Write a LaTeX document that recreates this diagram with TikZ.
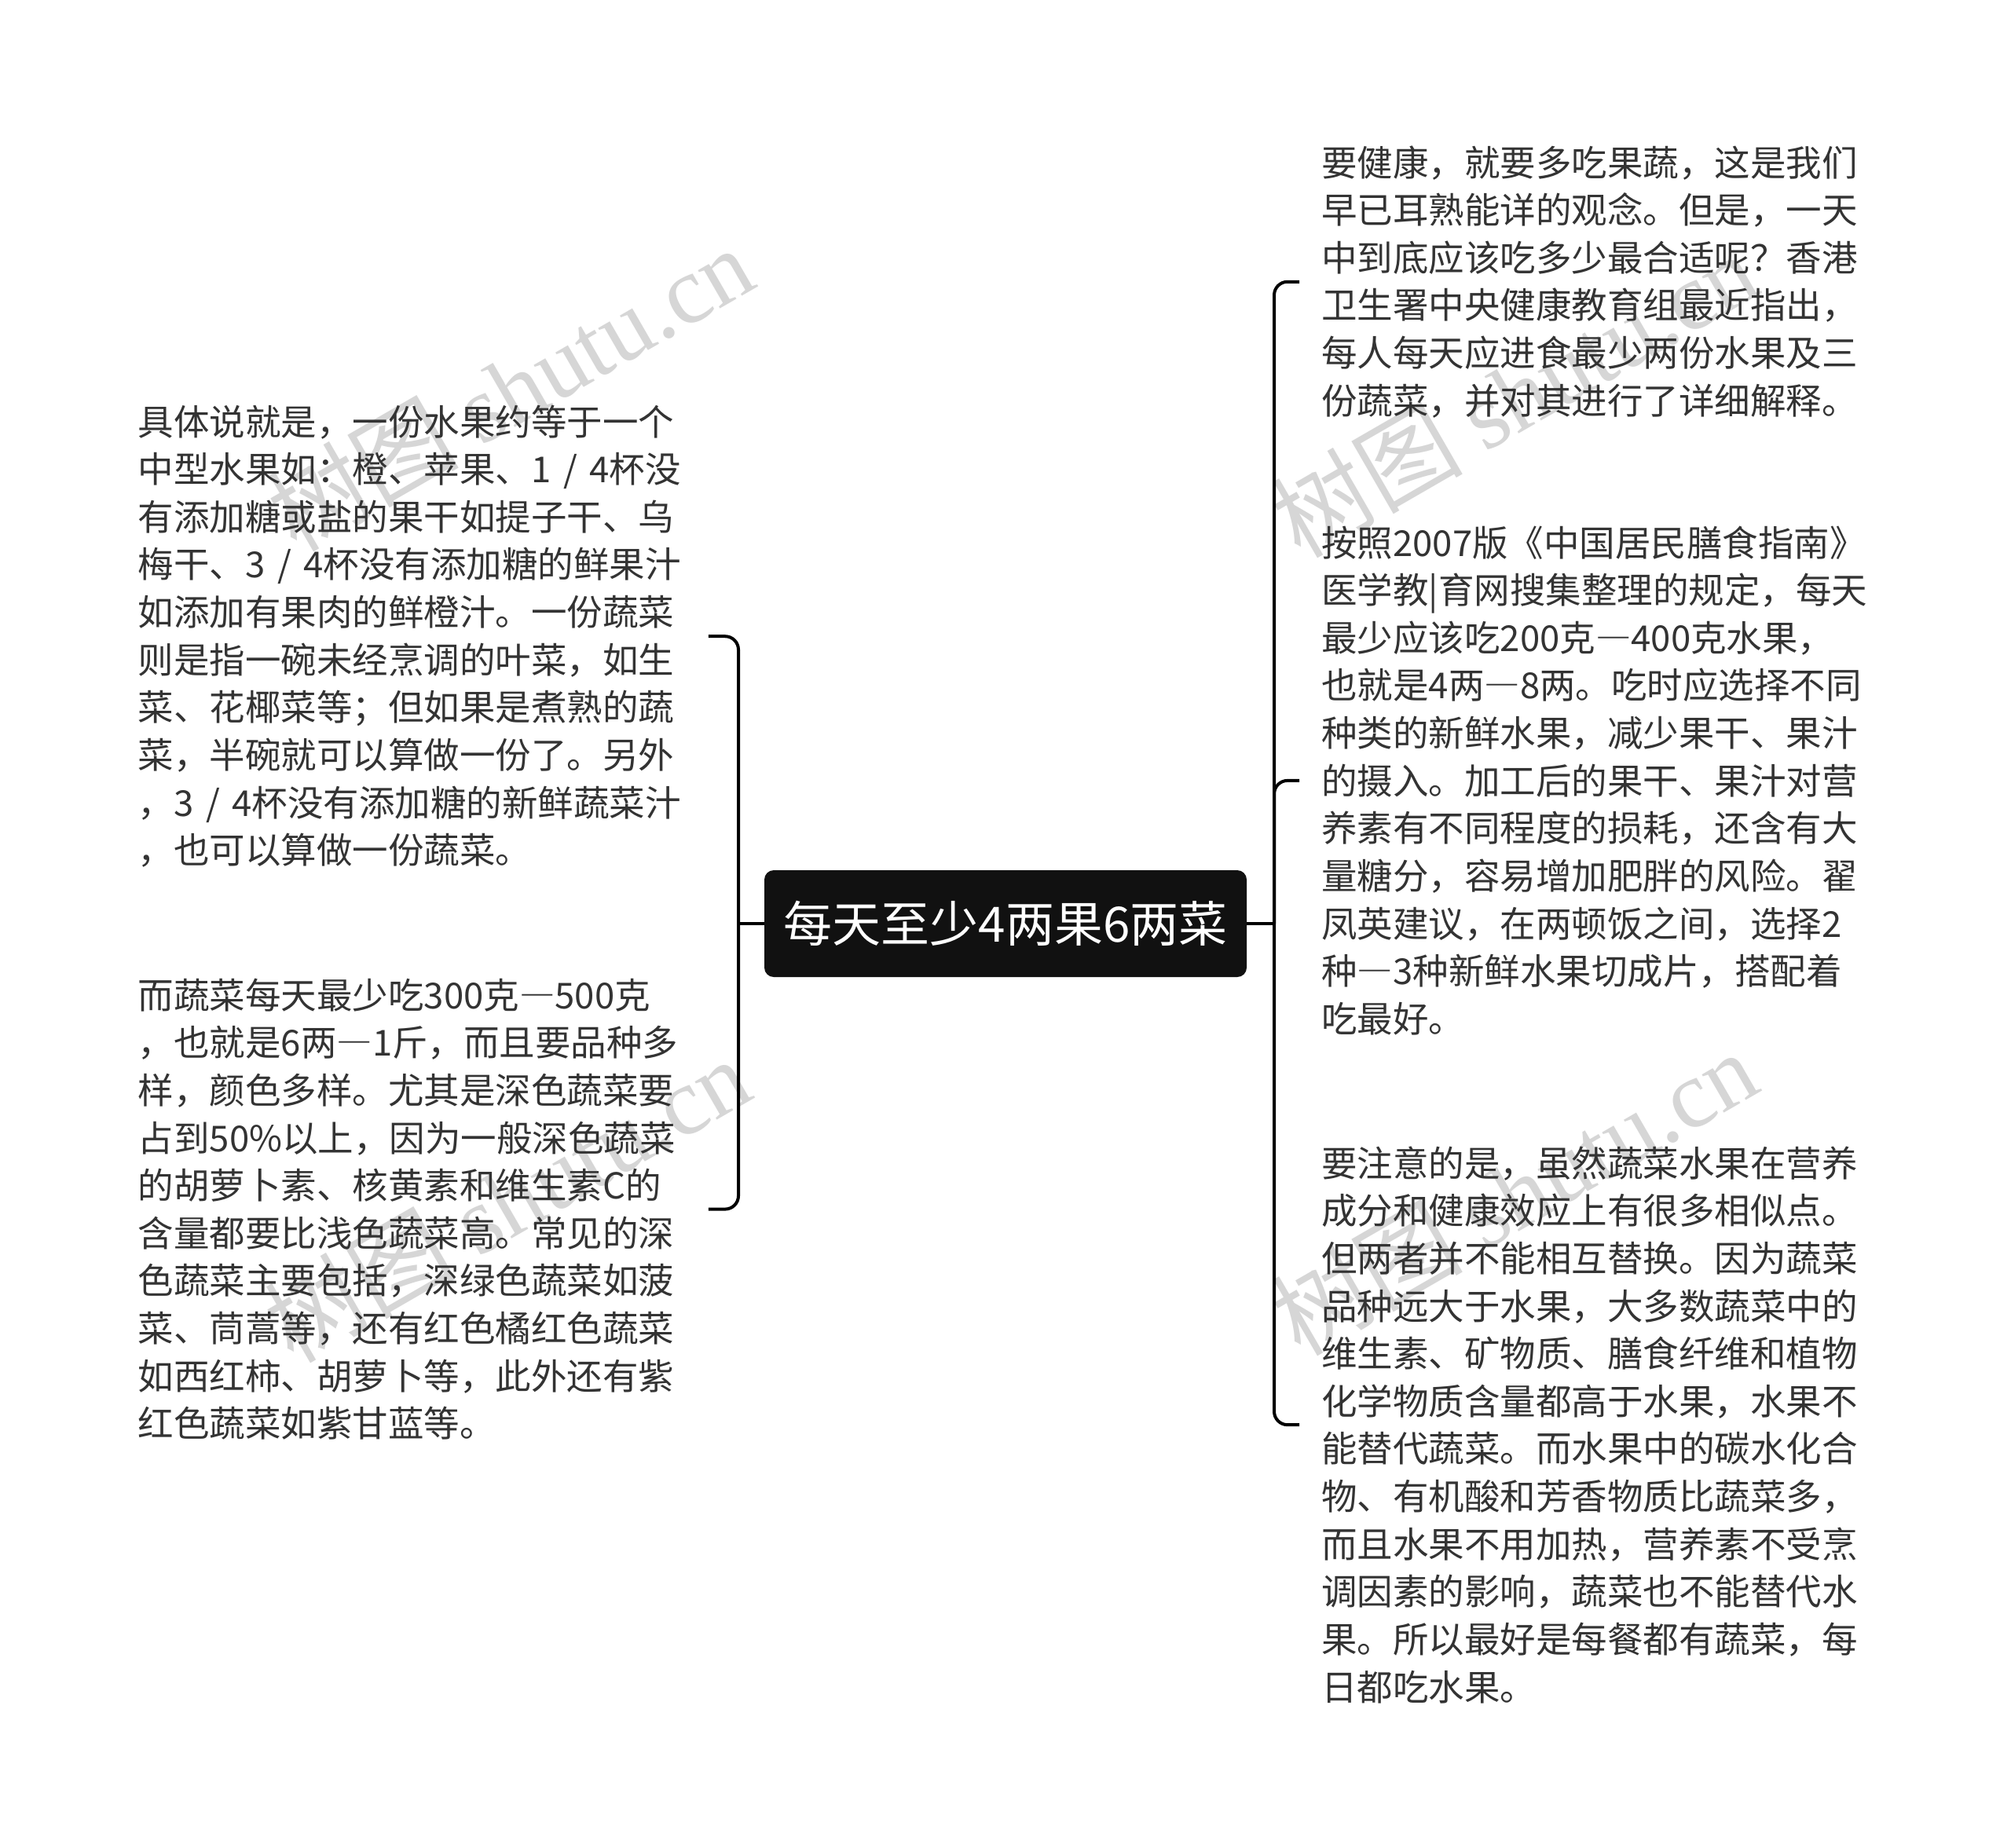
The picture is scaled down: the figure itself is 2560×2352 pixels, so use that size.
\documentclass[tikz,border=0pt]{standalone}
\usepackage{fontspec}
\setmainfont{Noto Sans CJK SC}
\newfontfamily\cjkwm{Noto Sans CJK SC}
\newfontfamily\wmserif{Liberation Serif}
\definecolor{txt}{HTML}{333333}
\definecolor{rootfill}{HTML}{111111}
\definecolor{wmgray}{HTML}{D6D6D6}
\newcommand{\leaftext}[1]{\parbox[t]{360pt}{\fontsize{22.75pt}{30.33pt}\selectfont\raggedright #1}}
\newcommand{\fdash}{{\addfontfeature{RawFeature=+fwid}—}}
\newcommand{\ws}{\hspace{0.34em}}
\tikzset{
  leafR/.style={anchor=base west, inner xsep=14pt, inner ysep=0pt, text=txt},
  leafL/.style={anchor=base west, inner xsep=2.75pt, inner ysep=0pt, text=txt},
  rootbox/.style={fill=rootfill, rounded corners=6pt, minimum width=307pt, minimum height=68pt,
    text=white, inner sep=0pt, font=\fontsize{31pt}{36pt}\selectfont},
  link/.style={draw=black, line width=2pt, rounded corners=8.5pt},
  wm/.style={text=wmgray, rotate=30, inner sep=0pt, font=\fontsize{61pt}{61pt}\selectfont}
}
\begin{document}
\begin{tikzpicture}[x=0.5pt, y=-0.5pt]
\useasboundingbox (0,0) rectangle (2560,2352);
\fill[white] (0,0) rectangle (2560,2352);
% watermarks
\begin{scope}
\clip (0,0) rectangle (2560,2352);
\node[wm] (wm1) at (649,494) {{\cjkwm 树图} {\wmserif shutu.cn}};
\node[wm] (wm2) at (1927,502) {{\cjkwm 树图} {\wmserif shutu.cn}};
\node[wm] (wm3) at (645,1527) {{\cjkwm 树图} {\wmserif shutu.cn}};
\node[wm] (wm4) at (1927,1518) {{\cjkwm 树图} {\wmserif shutu.cn}};
\node[wm] (wm5) at (645,2545) {{\cjkwm 树图} {\wmserif shutu.cn}};
\node[wm] (wm6) at (1927,2540) {{\cjkwm 树图} {\wmserif shutu.cn}};
\end{scope}
% root
\node[rootbox] (root) at (1280,1176) {每天至少4两果6两菜};
% left children
\node[leafL] (L1) at (170,554) {\leaftext{具体说就是，一份水果约等于一个\\
中型水果如：橙、苹果、1\ws/\ws4杯没\\
有添加糖或盐的果干如提子干、乌\\
梅干、3\ws/\ws4杯没有添加糖的鲜果汁\\
如添加有果肉的鲜橙汁。一份蔬菜\\
则是指一碗未经烹调的叶菜，如生\\
菜、花椰菜等；但如果是煮熟的蔬\\
菜，半碗就可以算做一份了。另外\\
，3\ws/\ws4杯没有添加糖的新鲜蔬菜汁\\
，也可以算做一份蔬菜。}};
\node[leafL] (L2) at (170,1284) {\leaftext{而蔬菜每天最少吃300克\fdash500克\\
，也就是6两\fdash1斤，而且要品种多\\
样，颜色多样。尤其是深色蔬菜要\\
占到50\%以上，因为一般深色蔬菜\\
的胡萝卜素、核黄素和维生素C的\\
含量都要比浅色蔬菜高。常见的深\\
色蔬菜主要包括，深绿色蔬菜如菠\\
菜、茼蒿等，还有红色橘红色蔬菜\\
如西红柿、胡萝卜等，此外还有紫\\
红色蔬菜如紫甘蓝等。}};
% right children
\node[leafR] (R1) at (1654,224) {\leaftext{要健康，就要多吃果蔬，这是我们\\
早已耳熟能详的观念。但是，一天\\
中到底应该吃多少最合适呢？香港\\
卫生署中央健康教育组最近指出，\\
每人每天应进食最少两份水果及三\\
份蔬菜，并对其进行了详细解释。}};
\node[leafR] (R2) at (1654,708) {\leaftext{按照2007版《中国居民膳食指南》\\
医学教|育网搜集整理的规定，每天\\
最少应该吃200克\fdash400克水果，\\
也就是4两\fdash8两。吃时应选择不同\\
种类的新鲜水果，减少果干、果汁\\
的摄入。加工后的果干、果汁对营\\
养素有不同程度的损耗，还含有大\\
量糖分，容易增加肥胖的风险。翟\\
凤英建议，在两顿饭之间，选择2\\
种\fdash3种新鲜水果切成片，搭配着\\
吃最好。}};
\node[leafR] (R3) at (1654,1498) {\leaftext{要注意的是，虽然蔬菜水果在营养\\
成分和健康效应上有很多相似点。\\
但两者并不能相互替换。因为蔬菜\\
品种远大于水果，大多数蔬菜中的\\
维生素、矿物质、膳食纤维和植物\\
化学物质含量都高于水果，水果不\\
能替代蔬菜。而水果中的碳水化合\\
物、有机酸和芳香物质比蔬菜多，\\
而且水果不用加热，营养素不受烹\\
调因素的影响，蔬菜也不能替代水\\
果。所以最好是每餐都有蔬菜，每\\
日都吃水果。}};
% connectors
\coordinate (jl) at (940,1176);
\coordinate (jr) at (1622,1176);
\draw[link] (root.west) -- (jl);
\draw[link] (jl) |- (L1.east);
\draw[link] (jl) |- (L2.east);
\draw[link] (root.east) -- (jr);
\draw[link] (jr) |- (R1.west);
\draw[link] (jr) |- (R2.west);
\draw[link] (jr) |- (R3.west);
\end{tikzpicture}
\end{document}
